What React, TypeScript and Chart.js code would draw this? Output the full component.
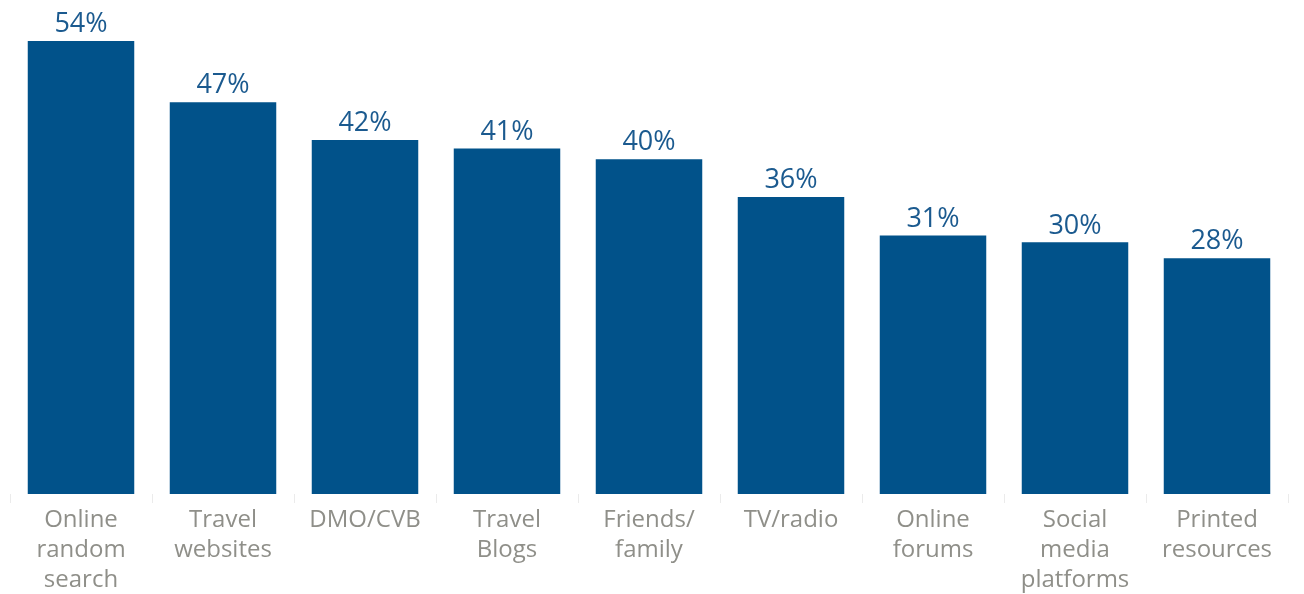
import React, { useEffect, useRef } from "react";
import { Chart, registerables } from "chart.js";

Chart.register(...registerables);

const categories: string[][] = [
  ["Online", "random", "search"],
  ["Travel", "websites"],
  ["DMO/CVB"],
  ["Travel", "Blogs"],
  ["Friends/", "family"],
  ["TV/radio"],
  ["Online", "forums"],
  ["Social", "media", "platforms"],
  ["Printed", "resources"],
];
// bar heights
const values: number[] = [54, 46.7, 42.2, 41.2, 39.9, 35.4, 30.8, 30.0, 28.1];
// printed value labels
const valueLabels: string[] = ["54%", "47%", "42%", "41%", "40%", "36%", "31%", "30%", "28%"];

const BAR_COLOR = "#01528a";
const LABEL_COLOR = "#1b5a8f";
const AXIS_TEXT = "#8f8f89";
const FONT = "'Open Sans', sans-serif";

const valueLabelPlugin = {
  id: "valueLabels",
  afterDatasetsDraw(chart: any) {
    const ctx = chart.ctx;
    const meta = chart.getDatasetMeta(0);
    ctx.save();
    ctx.fillStyle = LABEL_COLOR;
    ctx.font = `27px ${FONT}`;
    ctx.textAlign = "center";
    ctx.textBaseline = "bottom";
    meta.data.forEach((bar: any, i: number) => {
      ctx.fillText(valueLabels[i], bar.x, bar.y - 3);
    });
    ctx.restore();
  },
};

export default function App() {
  const ref = useRef<HTMLCanvasElement | null>(null);
  useEffect(() => {
    if (!ref.current) return;
    const chart = new Chart(ref.current, {
      type: "bar",
      data: {
        labels: categories,
        datasets: [
          {
            data: values,
            backgroundColor: BAR_COLOR,
            borderWidth: 0,
            barPercentage: 0.75,
            categoryPercentage: 1,
          },
        ],
      },
      options: {
        animation: false,
        responsive: true,
        maintainAspectRatio: false,
        layout: { padding: { top: 41, left: 10, right: 16, bottom: 0 } },
        plugins: {
          legend: { display: false },
          tooltip: { enabled: false },
        },
        scales: {
          x: {
            border: { display: false },
            grid: {
              offset: true,
              drawOnChartArea: false,
              drawTicks: true,
              tickLength: 9,
              color: "#ebebeb",
            },
            ticks: {
              color: AXIS_TEXT,
              padding: 2,
              maxRotation: 0,
              autoSkip: false,
              font: { family: FONT, size: 24, lineHeight: 1.25 },
            },
          },
          y: {
            display: false,
            min: 0,
            max: 54,
          },
        },
      },
      plugins: [valueLabelPlugin],
    });
    return () => chart.destroy();
  }, []);
  return (
    <div style={{ position: "fixed", left: 0, top: 0, width: 1304, height: 597, background: "#fff", overflow: "hidden" }}>
      <canvas ref={ref} />
    </div>
  );
}
